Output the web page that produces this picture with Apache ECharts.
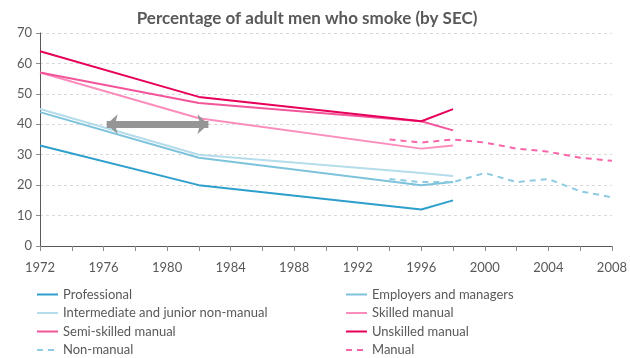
<!DOCTYPE html>
<html>
<head>
<meta charset="utf-8">
<script src="https://cdn.jsdelivr.net/npm/echarts@6/dist/echarts.min.js"></script>
<style>
  html, body { margin: 0; padding: 0; background: #fff; }
  #main { width: 630px; height: 358px; }
</style>
</head>
<body>
<div id="main"></div>
<script>
// 各社会经济阶层的年份
const secYears = [1972, 1982, 1996, 1998];
const professional = [33, 20, 12, 15];
const employers = [44, 29, 20, 21];
const intermediate = [45, 30, 24, 23];
const skilled = [57, 42, 32, 33];
const semiSkilled = [57, 47, 41, 38];
const unskilled = [64, 49, 41, 45];

// 汇总（虚线）
const summaryYears = [1994, 1996, 1998, 2000, 2002, 2004, 2006, 2008];
const nonManual = [22, 21, 21, 24, 21, 22, 18, 16];
const manual = [35, 34, 35, 34, 32, 31, 29, 28];

// 灰色双向箭头
const arrowYears = [1976.2, 1982.6];
const arrowValue = 40;

const font = 'Lato, "Liberation Sans", sans-serif';

function pairs(xs, ys) {
  return xs.map((x, i) => [x, ys[i]]);
}

function lineSeries(name, xs, ys, color, dashed) {
  return {
    name: name,
    type: 'line',
    data: pairs(xs, ys),
    symbol: 'none',
    smooth: false,
    lineStyle: { color: color, width: 2, type: dashed ? [6, 5] : 'solid' },
    itemStyle: { color: color },
    emphasis: { disabled: true },
    z: 3
  };
}

const chart = echarts.init(document.getElementById('main'), null, { renderer: 'canvas' });

const series = [
  lineSeries('Professional', secYears, professional, '#2e9fcc', false),
  lineSeries('Employers and managers', secYears, employers, '#7ec3dc', false),
  lineSeries('Intermediate and junior non-manual', secYears, intermediate, '#b5dcea', false),
  lineSeries('Skilled manual', secYears, skilled, '#fb8dbd', false),
  lineSeries('Semi-skilled manual', secYears, semiSkilled, '#f2559a', false),
  lineSeries('Unskilled manual', secYears, unskilled, '#e6005a', false),
  lineSeries('Non-manual', summaryYears, nonManual, '#8ecbe2', true),
  lineSeries('Manual', summaryYears, manual, '#f766a8', true),
  {
    name: 'arrow',
    type: 'line',
    data: [],
    z: 5,
    markLine: {
      silent: true,
      symbol: ['arrow', 'arrow'],
      symbolSize: [15, 11],
      label: { show: false },
      lineStyle: { color: '#959595', width: 7, type: 'solid' },
      data: [[
        { coord: [arrowYears[0], arrowValue] },
        { coord: [arrowYears[1], arrowValue] }
      ]]
    }
  }
];

const legendText = { color: '#595959', fontSize: 13, fontFamily: font };
const legendBase = {
  orient: 'vertical',
  top: 288,
  padding: 0,
  itemGap: 5.5,
  itemWidth: 21,
  itemHeight: 13,
  itemStyle: { opacity: 0 },
  textStyle: legendText
};

chart.setOption({
  animation: false,
  title: {
    text: 'Percentage of adult men who smoke (by SEC)',
    left: 302,
    textAlign: 'center',
    top: 5,
    textStyle: { fontSize: 17, fontWeight: 'bold', color: '#595959', fontFamily: font }
  },
  grid: { left: 40, right: 17, top: 33, bottom: 112, containLabel: false },
  legend: [
    Object.assign({}, legendBase, {
      left: 36,
      data: ['Professional', 'Intermediate and junior non-manual', 'Semi-skilled manual', 'Non-manual']
    }),
    Object.assign({}, legendBase, {
      left: 345,
      data: ['Employers and managers', 'Skilled manual', 'Unskilled manual', 'Manual']
    })
  ],
  xAxis: {
    type: 'value',
    min: 1972,
    max: 2008,
    interval: 2,
    axisLine: { show: true, lineStyle: { color: '#595959', width: 1 } },
    axisTick: { show: true, length: 5, lineStyle: { color: '#8c8c8c' } },
    splitLine: { show: false },
    axisLabel: {
      color: '#595959',
      fontSize: 13,
      fontFamily: font,
      margin: 15,
      showMaxLabel: true,
      formatter: v => ((v - 1972) % 4 === 0 ? String(v) : '')
    }
  },
  yAxis: {
    type: 'value',
    min: 0,
    max: 70,
    interval: 10,
    axisLine: { show: true, lineStyle: { color: '#595959', width: 1 } },
    axisTick: { show: true, length: 4, lineStyle: { color: '#8c8c8c' } },
    splitLine: { show: true, lineStyle: { color: '#d9d9d9', type: [3, 3] } },
    axisLabel: { color: '#595959', fontSize: 13, fontFamily: font, margin: 8 }
  },
  series: series
});
</script>
</body>
</html>
